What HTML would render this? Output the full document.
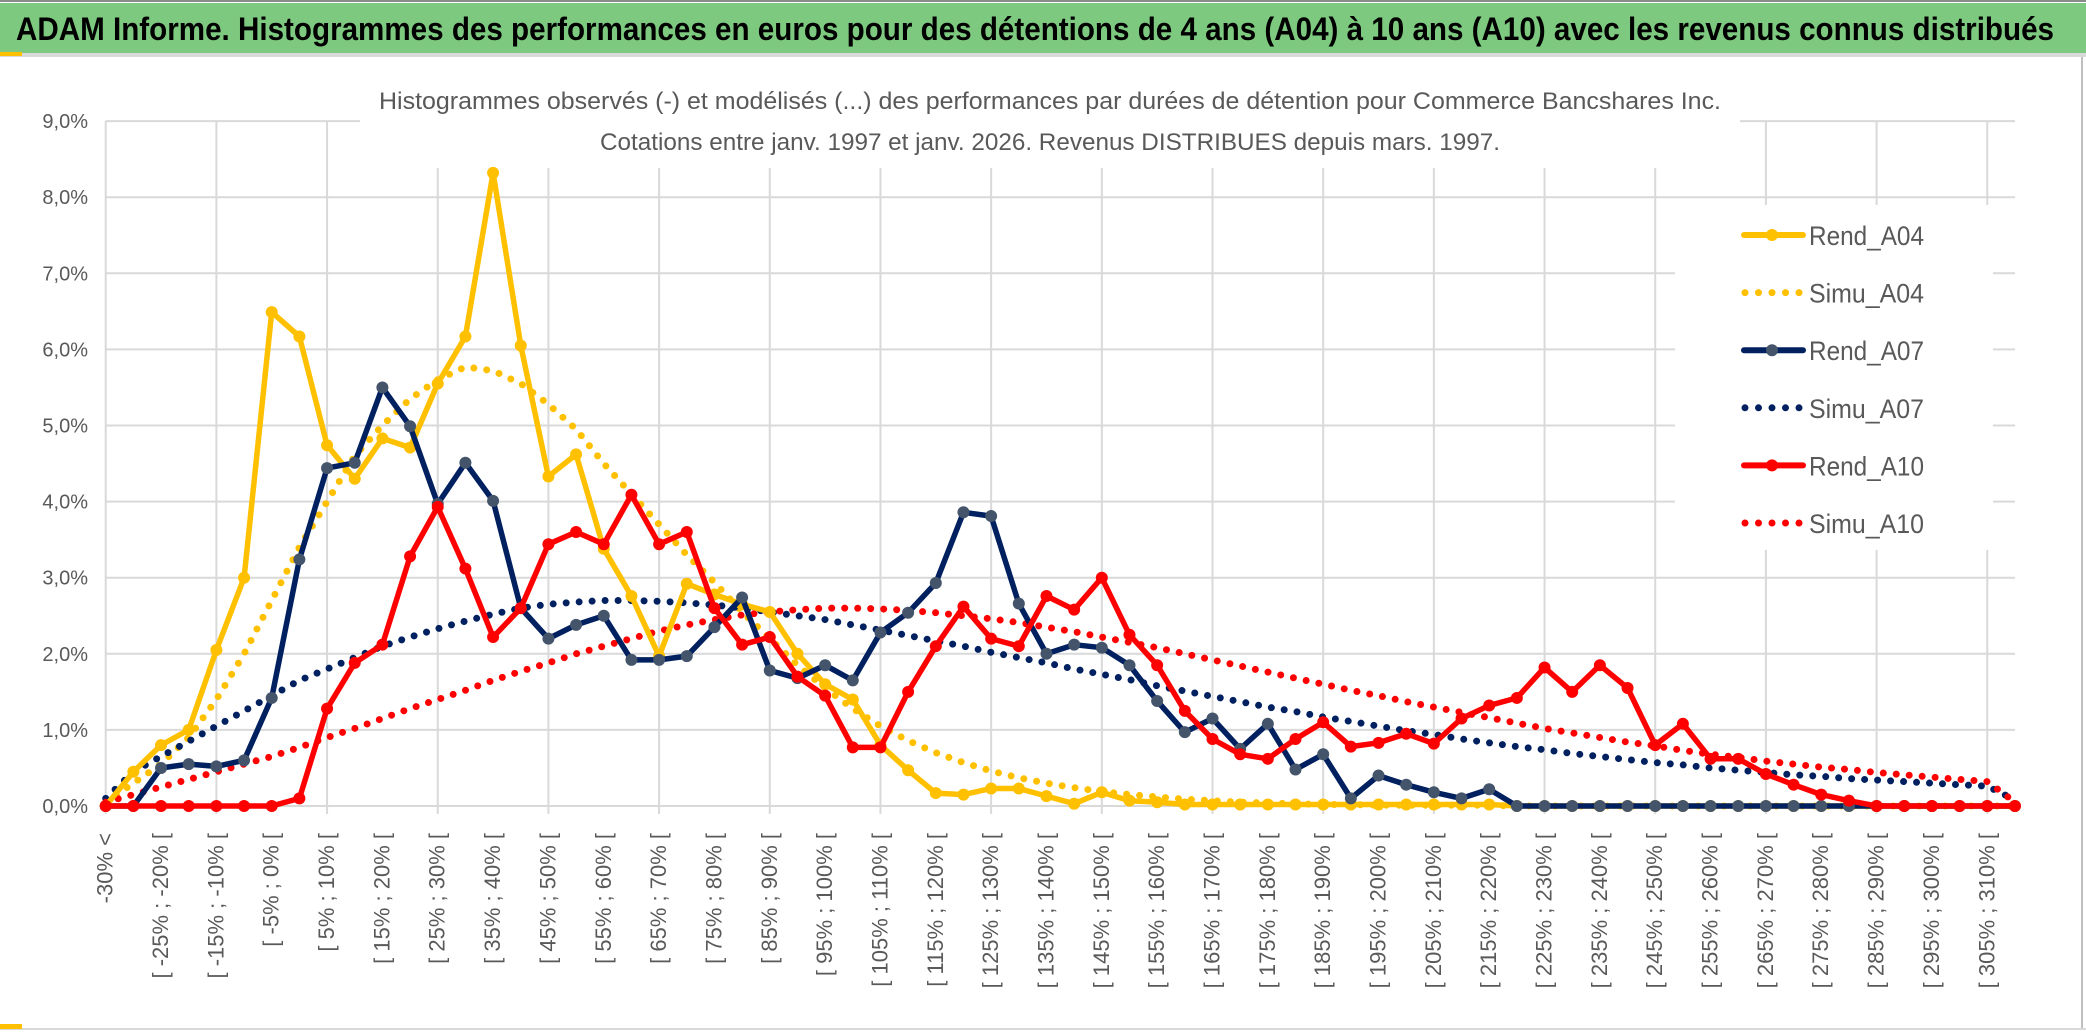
<!DOCTYPE html>
<html><head><meta charset="utf-8"><style>
html,body{margin:0;padding:0;background:#fff;}
svg{display:block;font-family:"Liberation Sans",sans-serif;}
</style></head><body>
<svg id="chart" width="2086" height="1033" viewBox="0 0 2086 1033" xmlns="http://www.w3.org/2000/svg">
<rect x="0" y="0" width="2086" height="1033" fill="#fff"/>
<rect x="0" y="0" width="2086" height="2" fill="#8a8a8a"/>
<rect x="0" y="3" width="2086" height="50" fill="#7dc97f"/>
<rect x="0" y="53" width="2086" height="4" fill="#d9d9d9"/>
<rect x="0" y="52" width="22" height="4" fill="#ffc000"/>
<text x="16" y="40" font-size="32" font-weight="bold" fill="#000" textLength="2038" lengthAdjust="spacingAndGlyphs">ADAM Informe. Histogrammes des performances en euros pour des détentions de 4 ans (A04) à 10 ans (A10) avec les revenus connus distribués</text>
<rect x="2081" y="57" width="2" height="973" fill="#bfbfbf"/>
<rect x="0" y="1028" width="2086" height="2" fill="#d9d9d9"/>
<rect x="0" y="1024" width="22" height="5" fill="#ffc000"/>
<g id="grid"></g>
<g id="yaxis"></g>
<g id="xaxis"></g>
<rect x="360" y="78" width="1380" height="90" fill="#fff"/>
<text x="1050" y="109" font-size="24" fill="#595959" text-anchor="middle" textLength="1342" lengthAdjust="spacingAndGlyphs">Histogrammes observés (-) et modélisés (...) des performances par durées de détention pour Commerce Bancshares Inc.</text>
<text x="1050" y="150" font-size="24" fill="#595959" text-anchor="middle" textLength="900" lengthAdjust="spacingAndGlyphs">Cotations entre janv. 1997 et janv. 2026. Revenus DISTRIBUES depuis mars. 1997.</text>
<g id="series"></g>
<g id="legend"></g>
</svg>
<script>
const rendA04=[0,0.45,0.8,1.0,2.05,3.0,6.49,6.17,4.74,4.30,4.83,4.71,5.55,6.17,8.32,6.05,4.33,4.62,3.38,2.76,1.97,2.92,2.78,2.65,2.55,2.0,1.6,1.4,0.8,0.47,0.17,0.15,0.23,0.23,0.13,0.03,0.18,0.07,0.05,0.02,0.02,0.02,0.02,0.02,0.02,0.02,0.02,0.02,0.02,0.02,0.02,0,0,0,0,0,0,0,0,0,0,0,0,0,0,0,0,0,0,0];
const simuA04=[0.05,0.3,0.55,0.9,1.4,2.0,2.7,3.4,4.0,4.6,5.0,5.35,5.6,5.77,5.72,5.55,5.28,4.95,4.5,4.1,3.7,3.3,2.94,2.55,2.2,1.85,1.55,1.28,1.05,0.86,0.7,0.57,0.46,0.37,0.3,0.24,0.19,0.15,0.12,0.09,0.07,0.05,0.04,0.03,0.02,0.02,0.01,0.01,0.01,0.01,0.01,0,0,0,0,0,0,0,0,0,0,0,0,0,0,0,0,0,0,0];
const rendA07=[0,0,0.5,0.55,0.52,0.6,1.42,3.24,4.44,4.51,5.50,4.99,3.97,4.51,4.01,2.6,2.2,2.38,2.5,1.92,1.92,1.97,2.35,2.74,1.78,1.68,1.85,1.65,2.28,2.54,2.93,3.86,3.81,2.66,2.0,2.12,2.08,1.85,1.38,0.97,1.15,0.75,1.08,0.48,0.68,0.1,0.4,0.28,0.18,0.1,0.22,0,0,0,0,0,0,0,0,0,0,0,0,0,0,0,0,0,0,0];
const simuA07=[0.1,0.45,0.65,0.85,1.05,1.25,1.45,1.65,1.8,1.95,2.1,2.22,2.33,2.43,2.52,2.6,2.65,2.68,2.7,2.7,2.69,2.67,2.64,2.6,2.55,2.5,2.45,2.38,2.31,2.24,2.17,2.1,2.02,1.95,1.88,1.8,1.73,1.66,1.58,1.51,1.44,1.37,1.3,1.24,1.17,1.11,1.05,0.99,0.94,0.88,0.83,0.78,0.74,0.69,0.65,0.61,0.57,0.54,0.5,0.47,0.44,0.41,0.39,0.36,0.34,0.32,0.3,0.28,0.26,0.08];
const rendA10=[0,0,0,0,0,0,0,0.1,1.28,1.88,2.12,3.28,3.93,3.12,2.22,2.6,3.44,3.6,3.44,4.09,3.44,3.6,2.6,2.12,2.22,1.7,1.45,0.77,0.77,1.5,2.1,2.62,2.2,2.1,2.76,2.58,3.0,2.25,1.85,1.25,0.88,0.68,0.62,0.88,1.1,0.78,0.83,0.95,0.82,1.15,1.32,1.42,1.82,1.5,1.85,1.55,0.8,1.08,0.62,0.62,0.42,0.28,0.15,0.07,0,0,0,0,0,0];
const simuA10=[0.05,0.15,0.25,0.35,0.45,0.55,0.65,0.77,0.9,1.02,1.15,1.28,1.4,1.52,1.65,1.77,1.88,2.0,2.1,2.2,2.3,2.38,2.45,2.51,2.55,2.58,2.6,2.6,2.59,2.57,2.54,2.5,2.46,2.41,2.35,2.29,2.22,2.15,2.08,2.0,1.92,1.84,1.76,1.68,1.6,1.52,1.45,1.37,1.3,1.23,1.16,1.09,1.02,0.96,0.9,0.84,0.79,0.73,0.68,0.64,0.59,0.55,0.51,0.48,0.44,0.41,0.38,0.35,0.32,0.05];
const yTicks=[0,1,2,3,4,5,6,7,8,9];
const categories=[];
categories.push("-30% <");
for(let i=1;i<70;i++){const lo=-35+5*i;categories.push("[ "+lo+"% ; "+(lo+5)+"% [");}

const NS="http://www.w3.org/2000/svg";
const X0=105.7, DX=27.67, Y0=806, DY=76.1, XR=2015;
const xS=i=>X0+i*DX;
const yS=v=>Y0-v*DY;
function mk(tag,attrs,parent){const e=document.createElementNS(NS,tag);for(const k in attrs)e.setAttribute(k,attrs[k]);parent.appendChild(e);return e;}
const grid=document.getElementById('grid'),yax=document.getElementById('yaxis'),xax=document.getElementById('xaxis');
yTicks.forEach(t=>{
  const l=mk('line',{x1:X0,x2:XR,y1:yS(t),y2:yS(t),stroke:'#d9d9d9','stroke-width':2},grid);
  
  
  const tx=mk('text',{x:88,y:yS(t)+7,'font-size':20,fill:'#595959','text-anchor':'end'},yax);
  tx.textContent=t.toFixed(1).replace('.',',')+'%';
  
  
});
for(let i=0;i<categories.length;i+=4){
  const l=mk('line',{x1:xS(i),x2:xS(i),y1:yS(9),y2:Y0+8,stroke:'#d9d9d9','stroke-width':2},grid);
  
  
}
for(let i=0;i<categories.length;i+=2){
  const x=xS(i)+7,y=833;
  const tx=mk('text',{x:x,y:y,'font-size':22,fill:'#595959','text-anchor':'end',transform:`rotate(-90 ${x} ${y})`},xax);
  tx.textContent=categories[i];
  
  
}
const ser=document.getElementById('series');
const defs=[
 {name:'Rend_A04',d:rendA04,c:'#ffc000',m:'#ffc000',dot:false},
 {name:'Simu_A04',d:simuA04,c:'#ffc000',dot:true},
 {name:'Rend_A07',d:rendA07,c:'#002060',m:'#44546a',dot:false},
 {name:'Simu_A07',d:simuA07,c:'#002060',dot:true},
 {name:'Rend_A10',d:rendA10,c:'#ff0000',m:'#ff0000',dot:false},
 {name:'Simu_A10',d:simuA10,c:'#ff0000',dot:true}
];
const order=[1,3,5,0,2,4];
order.forEach(k=>{
  const s=defs[k];
  const g=mk('g',{},ser);
  
  
  const pts=s.d.map((v,i)=>xS(i).toFixed(1)+','+yS(v).toFixed(1)).join(' ');
  if(s.dot){
    const p=mk('polyline',{points:pts,fill:'none',stroke:s.c,'stroke-width':7,'stroke-linecap':'round','stroke-dasharray':'0 13'},g);
    
    
  } else {
    const p=mk('polyline',{points:pts,fill:'none',stroke:s.c,'stroke-width':5.5,'stroke-linejoin':'round'},g);
    
    
    s.d.forEach((v,i)=>{
      const c=mk('circle',{cx:xS(i),cy:yS(v),r:6,fill:s.m},g);
      
      
    });
  }
});
const lg=document.getElementById('legend');
const bg=mk('rect',{x:1675,y:205,width:318,height:345,fill:'#fff'},lg);


defs.forEach((s,j)=>{
  const y=235+j*57.6;
  const g=mk('g',{},lg);
  
  
  if(s.dot){
    const l=mk('line',{x1:1745,x2:1800,y1:y,y2:y,stroke:s.c,'stroke-width':7,'stroke-linecap':'round','stroke-dasharray':'0 13.5'},g);
    
    
  } else {
    const l=mk('line',{x1:1744,x2:1803,y1:y,y2:y,stroke:s.c,'stroke-width':6,'stroke-linecap':'round'},g);
    
    
    const c=mk('circle',{cx:1772,cy:y,r:6,fill:s.m},g);
    
    
  }
  const t=mk('text',{x:1809,y:y+10,'font-size':27,fill:'#595959',textLength:115,lengthAdjust:'spacingAndGlyphs'},g);
  t.textContent=s.name;
  
  
});
</script>
</body></html>
